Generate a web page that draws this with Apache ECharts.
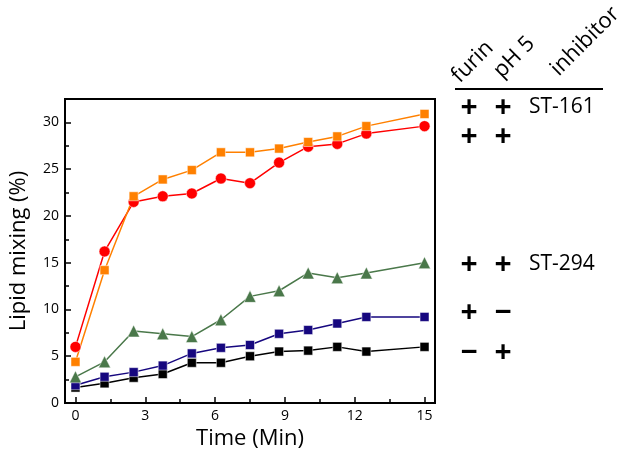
<!DOCTYPE html>
<html lang="en">
<head>
    <meta charset="UTF-8">
    <title>Lipid mixing</title>
    <script src="https://cdn.jsdelivr.net/npm/echarts@6/dist/echarts.min.js"></script>
    <style>
        html, body { margin: 0; padding: 0; background: #fff; }
    </style>
</head>
<body>
<div id="main" style="width: 627px;height: 455px"></div>
<script>
    // time points (min)
    var times = [0, 1.25, 2.5, 3.75, 5, 6.25, 7.5, 8.75, 10, 11.25, 12.5, 15];
    // lipid mixing (%)
    var st161 = [4.4, 14.2, 22.1, 23.9, 24.9, 26.8, 26.8, 27.2, 27.9, 28.5, 29.6, 30.9];
    var noInhib = [6.0, 16.2, 21.5, 22.1, 22.4, 24.0, 23.5, 25.7, 27.4, 27.7, 28.8, 29.6];
    var st294 = [2.8, 4.4, 7.7, 7.4, 7.1, 8.9, 11.4, 12.0, 13.9, 13.4, 13.9, 15.0];
    var furinOnly = [1.9, 2.8, 3.3, 4.0, 5.3, 5.9, 6.2, 7.4, 7.8, 8.5, 9.2, 9.2];
    var ph5Only = [1.65, 2.1, 2.7, 3.1, 4.3, 4.3, 5.0, 5.5, 5.6, 6.0, 5.5, 6.0];

    var xTicks = [0, 3, 6, 9, 12, 15];
    var xMinor = [1.5, 4.5, 7.5, 10.5, 13.5];
    var yTicks = [0, 5, 10, 15, 20, 25, 30];
    var yMinor = [2.5, 7.5, 12.5, 17.5, 22.5, 27.5];

    var headers = ['furin', 'pH 5', 'inhibitor'];
    var rowFurin = ['+', '+', '+', '+', '\u2212'];
    var rowPh = ['+', '+', '+', '\u2212', '+'];
    var rowInhib = ['ST-161', '', 'ST-294', '', ''];

    function pairs(ys) {
        var out = [];
        for (var i = 0; i < times.length; i++) out.push([times[i], ys[i]]);
        return out;
    }

    var font = 'Open Sans';
    var chartDom = document.getElementById('main');
    var myChart = echarts.init(chartDom);

    // legend table graphics
    var rowY = [108, 137, 265, 313, 353];
    var graphics = [
        { type: 'line', shape: { x1: 455, y1: 89, x2: 603, y2: 89 }, style: { stroke: '#000', lineWidth: 2 } }
    ];
    var headX = [[463, 87], [505, 82], [562, 80]];
    for (var h = 0; h < headers.length; h++) {
        graphics.push({
            type: 'text', x: headX[h][0], y: headX[h][1], rotation: Math.PI / 4,
            style: { text: headers[h], fontSize: 22, fontFamily: font, fill: '#000', align: 'left', verticalAlign: 'bottom' }
        });
    }
    for (var r = 0; r < rowY.length; r++) {
        graphics.push({
            type: 'text', x: 469, y: rowY[r],
            style: { text: rowFurin[r], fontSize: 30, fontWeight: 'bold', fontFamily: font, fill: '#000', align: 'center', verticalAlign: 'middle' }
        });
        graphics.push({
            type: 'text', x: 503, y: rowY[r],
            style: { text: rowPh[r], fontSize: 30, fontWeight: 'bold', fontFamily: font, fill: '#000', align: 'center', verticalAlign: 'middle' }
        });
        if (rowInhib[r]) {
            graphics.push({
                type: 'text', x: 529, y: rowY[r] - 1,
                style: { text: rowInhib[r], fontSize: 21, fontFamily: font, fill: '#000', align: 'left', verticalAlign: 'middle' }
            });
        }
    }

    function mkSeries(name, data, color, symbol, size) {
        return {
            name: name,
            type: 'line',
            data: pairs(data),
            symbol: symbol,
            symbolSize: size,
            lineStyle: { color: color, width: 1.5 },
            itemStyle: { color: color, borderColor: '#fff', borderWidth: 0.5 }
        };
    }

    var option = {
        animation: false,
        backgroundColor: '#fff',
        grid: { left: 62, right: 192, top: 99, bottom: 52, show: true, borderColor: '#000', borderWidth: 2 },
        xAxis: [
            {
                type: 'value', min: -0.45, max: 15.45, position: 'bottom',
                name: 'Time (Min)', nameLocation: 'middle', nameGap: 22,
                nameTextStyle: { fontSize: 22, fontFamily: font, color: '#000' },
                axisLine: { show: true, onZero: false, lineStyle: { color: '#000', width: 2 } },
                axisTick: { show: true, inside: true, length: 6, customValues: xTicks, lineStyle: { color: '#000', width: 1.5 } },
                axisLabel: { customValues: xTicks, fontSize: 14, fontFamily: font, color: '#000', margin: 6 },
                splitLine: { show: false }
            },
            {
                type: 'value', min: -0.45, max: 15.45, position: 'bottom',
                axisLine: { show: false, onZero: false },
                axisTick: { show: true, inside: true, length: 4, customValues: xMinor, lineStyle: { color: '#000', width: 1.5 } },
                axisLabel: { show: false },
                splitLine: { show: false }
            }
        ],
        yAxis: [
            {
                type: 'value', min: 0, max: 32.5, position: 'left',
                name: 'Lipid mixing (%)', nameLocation: 'middle', nameGap: 35,
                nameTextStyle: { fontSize: 22, fontFamily: font, color: '#000' },
                axisLine: { show: true, onZero: false, lineStyle: { color: '#000', width: 2 } },
                axisTick: { show: true, inside: true, length: 6, customValues: yTicks, lineStyle: { color: '#000', width: 1.5 } },
                axisLabel: { customValues: yTicks, fontSize: 14, fontFamily: font, color: '#000', margin: 6 },
                splitLine: { show: false }
            },
            {
                type: 'value', min: 0, max: 32.5, position: 'left',
                axisLine: { show: false, onZero: false },
                axisTick: { show: true, inside: true, length: 4, customValues: yMinor, lineStyle: { color: '#000', width: 1.5 } },
                axisLabel: { show: false },
                splitLine: { show: false }
            }
        ],
        series: [
            mkSeries('furin \u2212 / pH 5 +', ph5Only, '#000000', 'rect', 9),
            mkSeries('furin + / pH 5 \u2212', furinOnly, '#16077f', 'rect', 9),
            mkSeries('ST-294', st294, '#4a784a', 'triangle', 12),
            mkSeries('furin + / pH 5 +', noInhib, '#ff0000', 'circle', 11),
            mkSeries('ST-161', st161, '#ff8000', 'rect', 9)
        ],
        graphic: graphics
    };
    option && myChart.setOption(option);
</script>
</body>
</html>
